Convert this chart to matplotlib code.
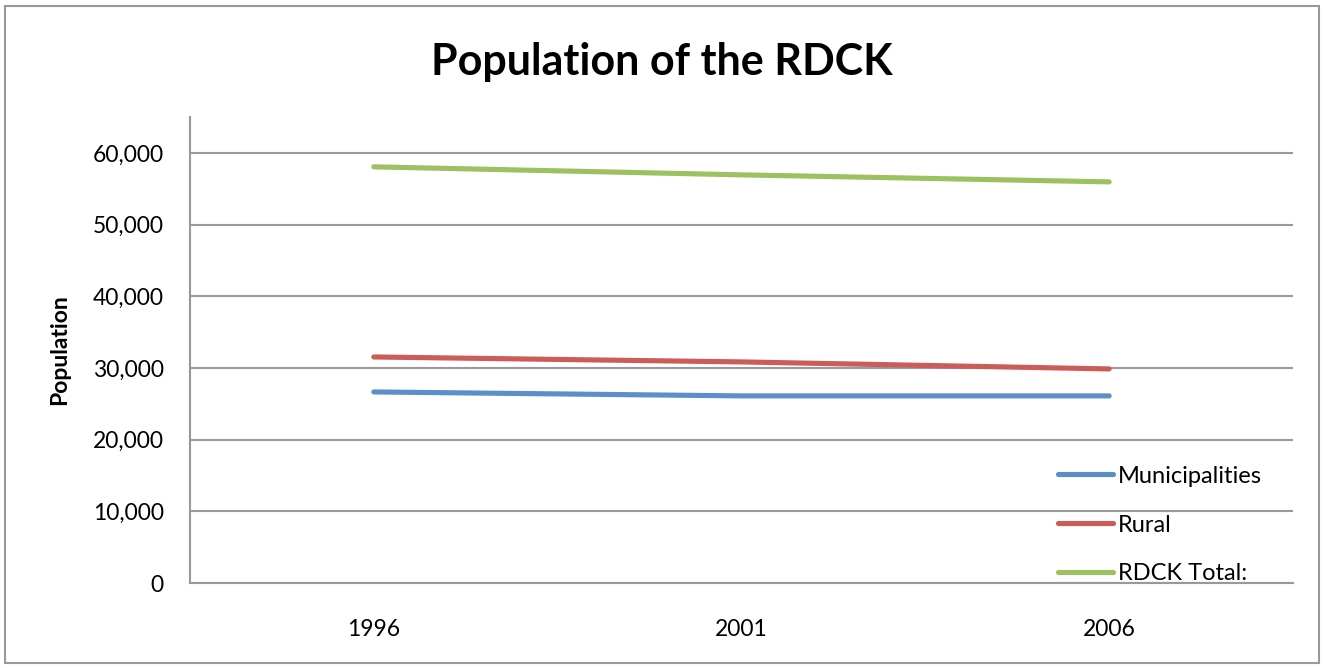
import matplotlib
matplotlib.use("Agg")
import matplotlib.pyplot as plt
from matplotlib.patches import Rectangle

years = ["1996", "2001", "2006"]
municipalities = [26650, 26100, 26100]
rural = [31530, 30840, 29860]
rdck_total = [58050, 56930, 55950]
series_names = ["Municipalities", "Rural", "RDCK Total:"]
colors = ["#5A8FC8", "#CB5C57", "#9DC060"]
yticks = [0, 10000, 20000, 30000, 40000, 50000, 60000]

plt.rcParams['font.family'] = ['Lato', 'DejaVu Sans']
FS = 16.5

W, H = 1324, 668
fig = plt.figure(figsize=(W/100, H/100), dpi=100)
ax = fig.add_axes([190/W, 1-583/H, (1293-190)/W, (583-117)/H])

x = list(range(len(years)))
for vals, name, c in zip([municipalities, rural, rdck_total], series_names, colors):
    ax.plot(x, vals, color=c, lw=3.7, solid_capstyle='round', label=name, zorder=3)

ax.set_xlim(-0.5, 2.5)
ax.set_ylim(0, 65000)
ax.set_xticks(x)
ax.set_xticklabels(years)
ax.set_yticks(yticks)
ax.set_yticklabels([f"{v:,}" for v in yticks])
ax.tick_params(axis='both', length=0, labelsize=FS, colors='black')
ax.tick_params(axis='y', pad=19)
ax.tick_params(axis='x', pad=26)
ax.grid(axis='y', color='#999999', lw=1.5, zorder=0)
ax.set_axisbelow(True)
for s in ['top', 'right']:
    ax.spines[s].set_visible(False)
for s in ['left', 'bottom']:
    ax.spines[s].set_color('#999999')
    ax.spines[s].set_linewidth(1.5)
    ax.spines[s].set_zorder(10)

ax.set_ylabel("Population", fontsize=FS, fontweight='bold', labelpad=16)

# white legend background area (covers gridline behind legend)
fig.patches.append(Rectangle((1022/W, 1-582/H), (1300-1022)/W, (582-452)/H,
                             transform=fig.transFigure, facecolor='white',
                             edgecolor='none', zorder=1))
ax.set_zorder(2)
ax.patch.set_visible(False)

leg = ax.legend(loc='center left', bbox_to_anchor=(1058/W, 1-525/H),
                bbox_transform=fig.transFigure, frameon=False,
                fontsize=FS + 0.5, handlelength=2.35, handletextpad=0.2,
                labelspacing=1.18, borderpad=0, borderaxespad=0)

fig.text(0.5, 1-62/H, "Population of the RDCK", ha='center', va='center',
         fontsize=31, fontweight='bold')

fig.patches.append(Rectangle((5/W, 5/H), (W-10)/W, (H-11)/H, transform=fig.transFigure,
                             fill=False, edgecolor='#999999', lw=1.5))

fig.savefig("out.png", dpi=100, facecolor='white')
